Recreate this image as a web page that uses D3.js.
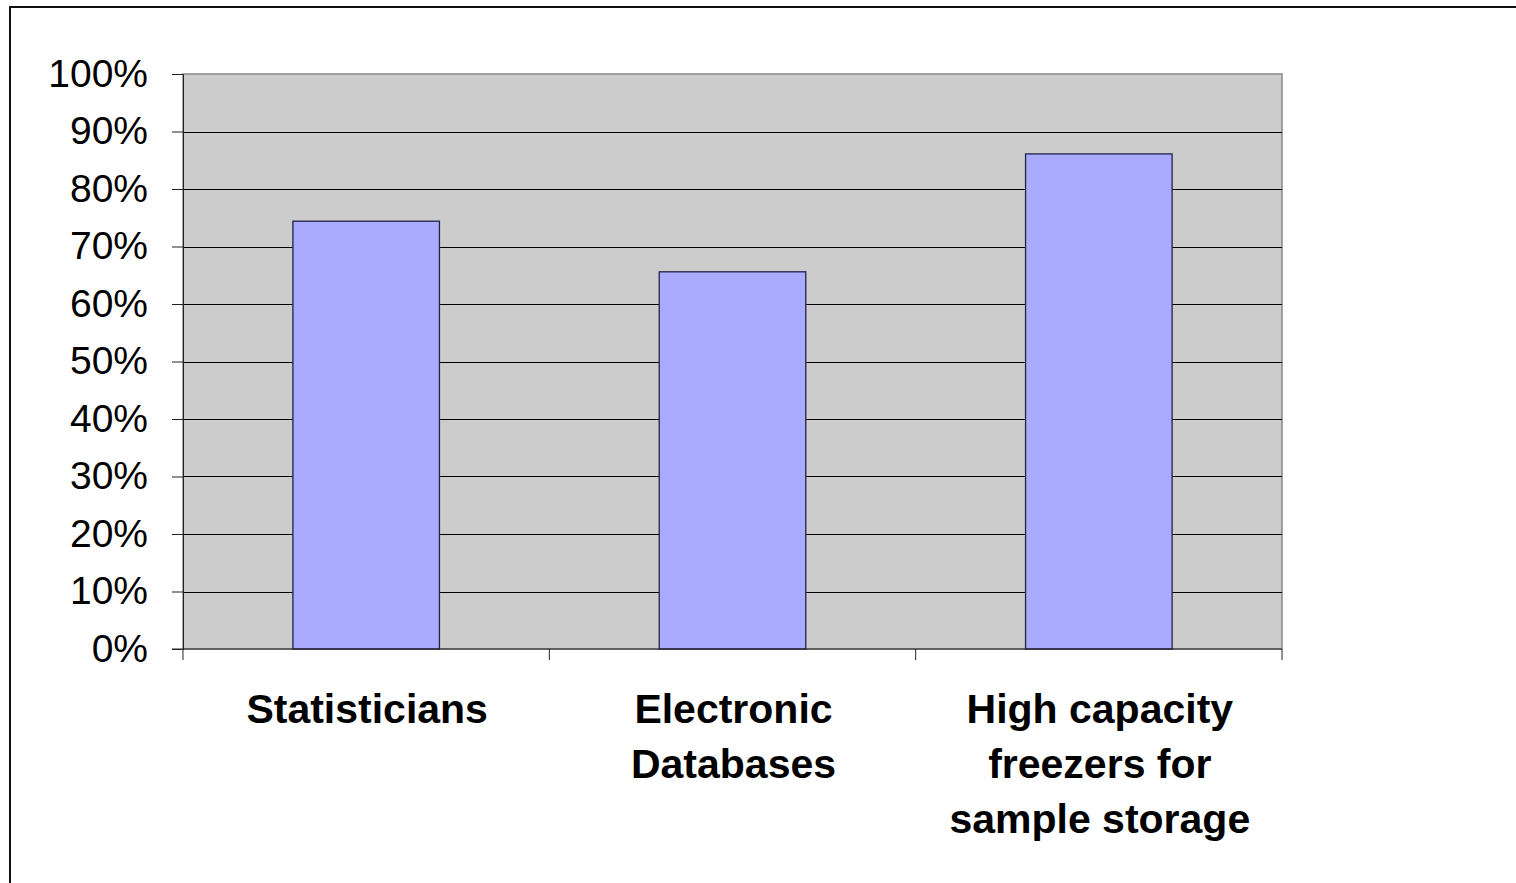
<!DOCTYPE html>
<html>
<head>
<meta charset="utf-8">
<script src="https://cdn.jsdelivr.net/npm/d3@7"></script>
<style>
  body { margin: 0; background: #fff; }
  svg { display: block; font-family: "Liberation Sans", Arial, sans-serif; }
</style>
</head>
<body>
<div id="chart-container"></div>
<script>
// chart data
const categories = ["Statisticians", "Electronic Databases", "High capacity freezers for sample storage"];
const labelLines = [["Statisticians"], ["Electronic", "Databases"], ["High capacity", "freezers for", "sample storage"]];
const values = [0.744, 0.656, 0.861];
const yTicks = [0, 0.1, 0.2, 0.3, 0.4, 0.5, 0.6, 0.7, 0.8, 0.9, 1.0];

const width = 1516;
const height = 883;
const marginTop = 74;
const marginLeft = 183;
const plotRight = 1282;
const plotBottom = 649;

const svg = d3.select("#chart-container").append("svg")
    .attr("width", width)
    .attr("height", height)
    .attr("viewBox", [0, 0, width, height]);

// outer frame (right and bottom run off the page)
svg.append("rect")
    .attr("x", 10)
    .attr("y", 7)
    .attr("width", width + 20)
    .attr("height", height + 20)
    .attr("fill", "#fff")
    .attr("stroke", "#111")
    .attr("stroke-width", 2);

const x = d3.scaleBand()
    .domain(categories)
    .range([marginLeft, plotRight])
    .paddingInner(0.6)
    .paddingOuter(0.3);

const y = d3.scaleLinear()
    .domain([0, 1])
    .range([plotBottom, marginTop]);

// plot area background
svg.append("rect")
    .attr("x", marginLeft)
    .attr("y", marginTop)
    .attr("width", plotRight - marginLeft)
    .attr("height", plotBottom - marginTop)
    .attr("fill", "#cccccc")
    .attr("stroke", "#888")
    .attr("stroke-width", 1.5);

// gridlines
svg.append("g")
    .selectAll("line")
    .data(yTicks.filter(d => d > 0 && d < 1))
    .join("line")
      .attr("x1", marginLeft)
      .attr("x2", plotRight)
      .attr("y1", d => Math.round(y(d)) + 0.5)
      .attr("y2", d => Math.round(y(d)) + 0.5)
      .attr("stroke", "#000")
      .attr("stroke-width", 1);

// bars
svg.append("g")
    .selectAll("rect")
    .data(values)
    .join("rect")
      .attr("x", (d, i) => x(categories[i]))
      .attr("y", d => y(d))
      .attr("width", x.bandwidth())
      .attr("height", d => y(0) - y(d))
      .attr("fill", "#aaaaff")
      .attr("stroke", "#22224a")
      .attr("stroke-width", 1.3);

// y axis
svg.append("g")
    .attr("transform", `translate(${marginLeft},0)`)
    .call(d3.axisLeft(y).tickValues(yTicks).tickFormat(d3.format(".0%")).tickSize(11).tickPadding(24))
    .call(g => g.selectAll("line, path").attr("stroke", "#222"))
    .call(g => g.selectAll("text")
        .attr("font-size", 39)
        .attr("font-family", "'Liberation Sans', Arial, sans-serif")
        .attr("fill", "#000"));

// x axis
const xAxis = svg.append("g")
    .attr("transform", `translate(0,${plotBottom})`);
xAxis.append("line")
    .attr("x1", marginLeft - 11)
    .attr("x2", plotRight)
    .attr("stroke", "#222");
xAxis.selectAll(".tick")
    .data([marginLeft, ...categories.map(c => x(c) + x.bandwidth() / 2 + x.step() / 2)])
    .join("line")
      .attr("x1", d => d)
      .attr("x2", d => d)
      .attr("y1", 0)
      .attr("y2", 11)
      .attr("stroke", "#222");

// category labels
const labels = svg.append("g")
    .attr("font-size", 41)
    .attr("font-weight", "bold")
    .attr("text-anchor", "middle")
    .attr("fill", "#000");
labels.selectAll("text")
    .data(categories)
    .join("text")
      .attr("x", d => x(d) + x.bandwidth() / 2 + 1)
      .attr("y", 723)
      .each(function(d, i) {
        d3.select(this).selectAll("tspan")
          .data(labelLines[i])
          .join("tspan")
            .attr("x", x(d) + x.bandwidth() / 2 + 1)
            .attr("dy", (t, j) => j === 0 ? 0 : 55)
            .text(t => t);
      });
</script>
</body>
</html>
